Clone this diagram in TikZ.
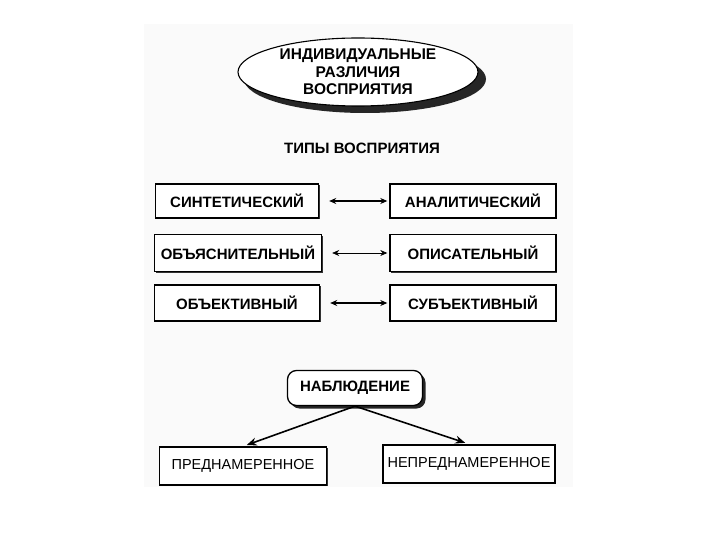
\documentclass[tikz,border=0pt]{standalone}
\usepackage{fontspec}
\setmainfont{Liberation Sans}
\usetikzlibrary{arrows.meta,shadows,shapes.geometric}
\tikzset{
  typebox/.style={draw, line width=1.4pt, fill=white, inner sep=0pt,
    font=\fontsize{15}{17}\selectfont\bfseries,
    drop shadow={shadow xshift=1.2pt, shadow yshift=-1.2pt, fill=black, opacity=0.8}},
  kindbox/.style={draw, line width=1.3pt, fill=white, inner sep=0pt,
    minimum width=168pt, minimum height=38pt,
    font=\fontsize{14.5}{16}\selectfont,
    drop shadow={shadow xshift=1.2pt, shadow yshift=-1.2pt, fill=black, opacity=0.8}},
  pairarrow/.style={{Stealth[length=7pt,width=6pt]}-{Stealth[length=7pt,width=6pt]}, line width=1.3pt, shorten <=10pt, shorten >=2pt},
  downarrow/.style={-{Stealth[length=10pt,width=8pt]}, line width=1.6pt, shorten >=4pt}
}
\begin{document}
\begin{tikzpicture}[x=1pt,y=-1pt]
\useasboundingbox (0,0) rectangle (720,540);
\fill[black!2] (144,24) rectangle (573,487);
% ellipse with shadow
\fill[black!85] (365,79) ellipse [x radius=121, y radius=34];
\node[ellipse, draw, line width=1.1pt, fill=white, minimum width=240pt, minimum height=68pt, inner sep=0pt,
  align=center, font=\fontsize{15.5}{17.5}\selectfont\bfseries] (ell) at (358,72)
  {ИНДИВИДУАЛЬНЫЕ\\РАЗЛИЧИЯ\\ВОСПРИЯТИЯ};
\node[font=\fontsize{15}{17}\selectfont\bfseries] (title) at (362,148) {ТИПЫ ВОСПРИЯТИЯ};
% pairs
\node[typebox, minimum width=163pt, minimum height=34pt] (syn) at (237,201) {СИНТЕТИЧЕСКИЙ};
\node[typebox, minimum width=166pt, minimum height=34pt] (ana) at (473,201) {АНАЛИТИЧЕСКИЙ};
\node[typebox, minimum width=167pt, minimum height=37pt] (obj1) at (238,253) {ОБЪЯСНИТЕЛЬНЫЙ};
\node[typebox, minimum width=166pt, minimum height=37pt] (opi) at (473,253) {ОПИСАТЕЛЬНЫЙ};
\node[typebox, minimum width=165pt, minimum height=36pt] (obk) at (237,303) {ОБЪЕКТИВНЫЙ};
\node[typebox, minimum width=166pt, minimum height=36pt] (sub) at (473,303) {СУБЪЕКТИВНЫЙ};
\draw[pairarrow] (syn) -- (ana);
\draw[pairarrow, line width=0.7pt] (obj1) -- (opi);
\draw[pairarrow] (obk) -- (sub);
% observation
\node[draw, line width=1.3pt, rounded corners=9pt, fill=white, minimum width=135pt, minimum height=35pt,
  font=\fontsize{15}{17}\selectfont\bfseries,
  drop shadow={shadow xshift=3pt, shadow yshift=-3pt, fill=black, opacity=0.85}] (nab) at (355,388) {НАБЛЮДЕНИЕ};
\node[kindbox, minimum width=167pt] (pre) at (243,466) {ПРЕДНАМЕРЕННОЕ};
\node[kindbox, minimum width=172pt, line width=1.8pt] (nepre) at (469,464) {НЕПРЕДНАМЕРЕННОЕ};
\draw[downarrow] (nab.south) -- (pre.north);
\draw[downarrow] (nab.south) -- (nepre.north);
\end{tikzpicture}
\end{document}
